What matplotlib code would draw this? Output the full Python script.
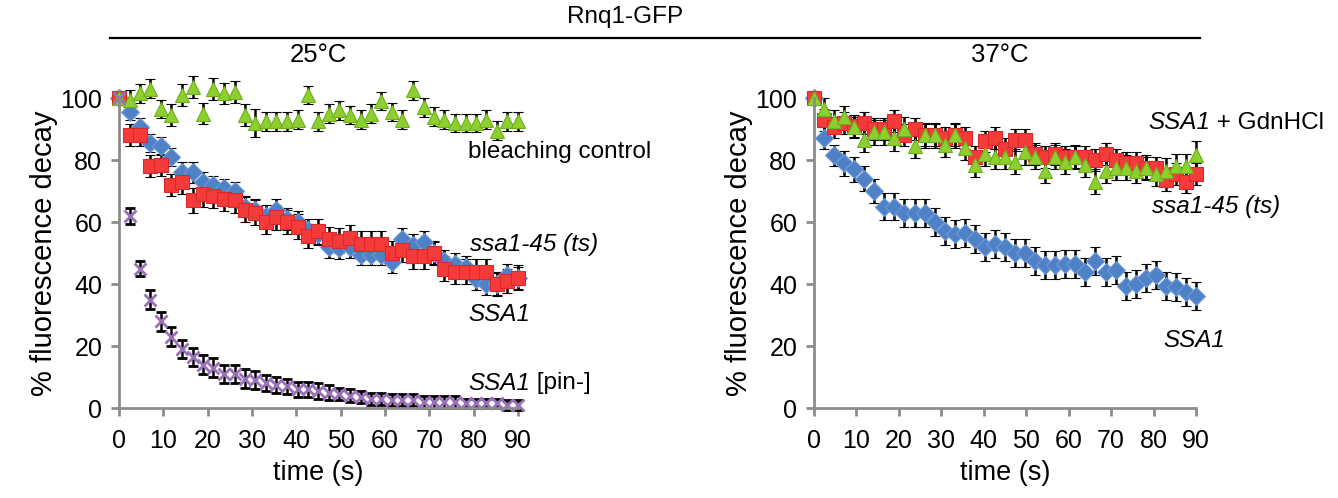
import matplotlib
matplotlib.use("Agg")
import matplotlib.pyplot as plt

plt.rcParams['font.family'] = ['Liberation Sans', 'DejaVu Sans']

# time points (s), same for every series
time_s = [0, 2.4, 4.7, 7.1, 9.5, 11.8, 14.2, 16.6, 18.9, 21.3, 23.7, 26.1, 28.4,
          30.8, 33.2, 35.5, 37.9, 40.3, 42.6, 45.0, 47.4, 49.7, 52.1, 54.5, 56.8,
          59.2, 61.6, 63.9, 66.3, 68.7, 71.1, 73.4, 75.8, 78.2, 80.5, 82.9, 85.3,
          87.6, 90.0]

# 25°C panel
ssa1_25 = [100, 95.5, 90.5, 85.5, 84.5, 81, 76, 76, 73, 72, 71, 70, 65, 64, 62,
           64, 61, 60, 57.5, 56, 52, 51.5, 52, 49.5, 49.5, 49.5, 47, 54.5, 52.5,
           53.5, 50, 47.5, 46.5, 45.5, 41.5, 40, 40, 43, 42]
ssa1_25_err = [1, 2.5, 3, 3, 3, 3, 3.5, 3.5, 3, 3, 3, 3, 3.5, 3.5, 3.5, 3.5, 3.5,
               3.5, 3.5, 3.5, 3.5, 3.5, 3.5, 3.5, 3.5, 3.5, 3.5, 3.5, 3.5, 3.5,
               3.5, 3.5, 3.5, 3.5, 3.5, 3.5, 3.5, 3.5, 3.5]
ts_25 = [100, 88, 88, 78, 78.5, 72, 73, 67, 69, 68.5, 67.5, 67, 64, 63, 60, 61.5,
         60, 58.5, 55.5, 57, 54.5, 54, 55, 53, 53, 53, 50, 51, 49, 49, 50, 45, 44,
         44, 44, 44, 40, 41, 42]
ts_25_err = [1, 3.5, 3.5, 3.5, 3.5, 3.5, 4, 4, 4, 4, 4, 4, 4, 4, 4, 4, 4, 4, 4,
             4, 4, 4, 4, 4, 4, 4, 4, 4, 4, 4, 4, 4, 4, 4, 4, 4, 4, 4, 4]
bleach_25 = [100, 99.5, 101.5, 103, 96.5, 94.5, 101, 103.5, 95, 103, 101.5, 102,
             94.5, 92, 92.5, 92.5, 92.5, 93, 101, 92.5, 95, 96, 94.5, 93, 95, 99,
             95.5, 93, 102.5, 97, 94, 93, 92, 92, 92, 93, 89.5, 92.5, 92.5]
bleach_25_err = [1, 3, 3, 3, 3, 3.5, 3.5, 3.5, 3.5, 3.5, 3.5, 3.5, 3.5, 4.5, 3,
                 3, 3, 3, 3, 3, 3, 3, 3, 3, 3, 3, 3, 3, 3, 3, 3, 3, 3, 3, 3, 3,
                 3, 3, 3]
pin_25 = [100, 62, 45, 35, 28, 23, 19, 16.5, 14, 13, 11, 11, 9.5, 9, 8, 7.5, 7,
          6, 6, 5.5, 5, 4.5, 4, 3.5, 3, 3, 2.5, 2.5, 2.5, 2, 2, 2, 2, 1.5, 1.5,
          1.5, 1.5, 1, 1]
pin_25_err = [1, 2.5, 2.5, 3, 3, 3, 3, 3, 3, 3, 3, 3, 3, 3, 2.5, 2.5, 2.5, 2.5,
              2.5, 2.5, 2.5, 2, 2, 2, 2, 2, 2, 2, 2, 2, 2, 2, 2, 1.5, 1.5, 1.5,
              1.5, 1.5, 1.5]

# 37°C panel
ssa1_37 = [100, 87, 81.5, 79, 77, 74, 70, 65, 65, 63, 63, 63, 60, 57, 56, 56.5,
           54.5, 52, 53, 52, 50, 50, 47.5, 46, 46, 46.5, 46.5, 44, 47.5, 44, 44.5,
           39.5, 40, 42, 43, 39.5, 39, 37.5, 36]
ssa1_37_err = [1, 3.5, 3.5, 4, 4, 4, 4, 4.5, 4.5, 4.5, 4.5, 4.5, 4.5, 4.5, 4.5,
               4.5, 4.5, 4.5, 4.5, 4.5, 4.5, 4.5, 4.5, 4.5, 4.5, 4.5, 4.5, 4.5,
               4.5, 4.5, 4.5, 4.5, 4.5, 4.5, 4.5, 4.5, 4.5, 4.5, 4.5]
ts_37 = [100, 93, 90.5, 92, 91, 92, 90, 90, 92.5, 88, 90, 88, 88, 87, 88, 87, 81,
         86, 87, 83.5, 86.5, 86.5, 82, 81, 82, 81, 81, 81, 80, 82, 80, 79, 79,
         77.5, 77.5, 73.5, 75.5, 73, 75.5]
ts_37_err = [1, 3.5, 3.5, 3.5, 3.5, 3.5, 3.5, 3.5, 3.5, 3.5, 3.5, 3.5, 3.5, 3.5,
             3.5, 3.5, 3.5, 3.5, 3.5, 3.5, 3.5, 3.5, 3.5, 3.5, 3.5, 3.5, 3.5,
             3.5, 3.5, 3.5, 3.5, 3.5, 3.5, 3.5, 3.5, 3.5, 3.5, 3.5, 3.5]
gdn_37 = [100, 96.5, 92.5, 94, 90.5, 86.5, 89, 89, 87, 90, 84.5, 88, 88, 85, 88,
          84, 78.5, 82, 81, 81, 79.5, 82.5, 81, 76.5, 81, 79.5, 81, 78.5, 73,
          76.5, 77.5, 77.5, 76.5, 77.5, 75.5, 76.5, 78, 78, 81.5]
gdn_37_err = [1, 3.5, 3.5, 3.5, 3.5, 4, 4, 4, 4, 4, 4, 4, 4, 4, 4, 4, 4, 4, 4,
              4, 4, 4, 4, 4, 4, 4, 4, 4, 4, 4, 4, 4, 4, 4, 4, 4, 4, 4, 4.5]

blue = '#4f81c7'
red = '#f53a3a'
green = '#8ccf2e'
purple = '#9a70b8'
axis_grey = '#8c8c8c'
fs = 17.5

fig = plt.figure(figsize=(13.38, 4.98), dpi=100)
ax1 = fig.add_axes([0.0889, 0.1807, 0.2982, 0.6225])
ax2 = fig.add_axes([0.6084, 0.1807, 0.2855, 0.6225])


def series(ax, y, err, marker, color, ec, ms, mew=0.8):
    ax.errorbar(time_s, y, yerr=err, fmt=marker, color=color, mec=ec, mew=mew,
                ms=ms, ecolor='black', elinewidth=1.8, capsize=3.5,
                capthick=1.8, clip_on=False)


series(ax1, ssa1_25, ssa1_25_err, 'D', blue, '#6f9ad6', 9.5)
series(ax1, ts_25, ts_25_err, 's', red, '#d82a2a', 9.5)
series(ax1, bleach_25, bleach_25_err, '^', green, '#6fae1e', 10.5)
series(ax1, pin_25, pin_25_err, 'x', purple, purple, 9, mew=2)

series(ax2, ssa1_37, ssa1_37_err, 'D', blue, '#6f9ad6', 9.5)
series(ax2, ts_37, ts_37_err, 's', red, '#d82a2a', 9.5)
series(ax2, gdn_37, gdn_37_err, '^', green, '#6fae1e', 10.5)

for ax in (ax1, ax2):
    ax.set_xlim(0, 90)
    ax.set_ylim(0, 100)
    ax.set_xticks(range(0, 91, 10))
    ax.set_yticks(range(0, 101, 20))
    for s in ('top', 'right'):
        ax.spines[s].set_visible(False)
    for s in ('left', 'bottom'):
        ax.spines[s].set_color(axis_grey)
        ax.spines[s].set_linewidth(2)
    ax.tick_params(direction='out', length=6, width=2, color=axis_grey,
                   labelsize=18, pad=6)
    ax.tick_params(axis='x', pad=9)
    ax.set_xlabel('time (s)', fontsize=19.5, labelpad=5)
    ax.set_ylabel('% fluorescence decay', fontsize=21, labelpad=2)

# panel annotations, 25°C
ax1.text(78.7, 82.6, 'bleaching control', fontsize=fs, va='center')
ax1.text(79.2, 52.9, 'ssa1-45 (ts)', fontsize=fs, va='center', style='italic')
ax1.text(78.7, 30.3, 'SSA1', fontsize=fs, va='center', style='italic')
pin = ax1.text(78.7, 8.0, 'SSA1', fontsize=fs, va='center', style='italic')
ax1.annotate(' [pin-]', xy=(1, 0.5), xycoords=pin, fontsize=fs, va='center')

# panel annotations, 37°C
gdn = ax2.text(78.7, 92.0, 'SSA1', fontsize=fs, va='center', style='italic')
ax2.annotate(' + GdnHCl', xy=(1, 0.5), xycoords=gdn, fontsize=fs, va='center')
ax2.text(79.6, 65.0, 'ssa1-45 (ts)', fontsize=fs, va='center', style='italic')
ax2.text(82.2, 21.9, 'SSA1', fontsize=fs, va='center', style='italic')

# header
fig.text(625 / 1338, 1 - 17 / 498, 'Rnq1-GFP', fontsize=fs, ha='center', va='center')
fig.add_artist(plt.Line2D([110 / 1338, 1200 / 1338], [1 - 38 / 498, 1 - 38 / 498],
                          color='black', lw=1.6))
fig.text(318 / 1338, 1 - 55 / 498, '25°C', fontsize=18.5, ha='center', va='center')
fig.text(1000 / 1338, 1 - 55 / 498, '37°C', fontsize=18.5, ha='center', va='center')

fig.savefig('out.png', dpi=100, facecolor='white')
